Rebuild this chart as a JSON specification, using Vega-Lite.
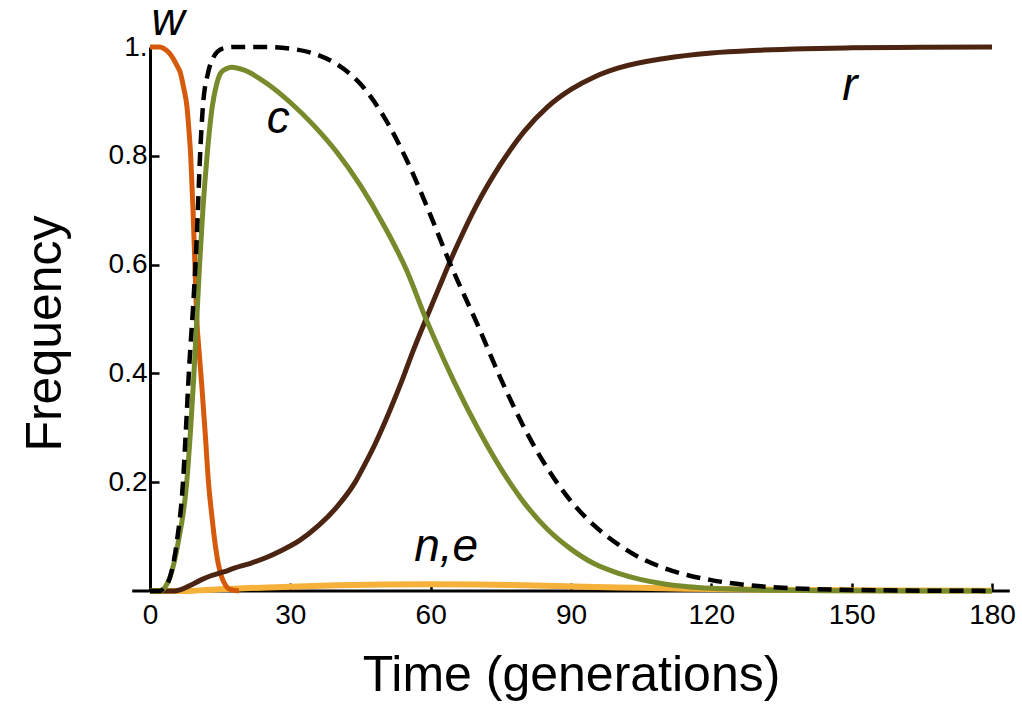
{
  "$schema": "https://vega.github.io/schema/vega-lite/v6.json",
  "width": 842,
  "height": 544,
  "autosize": {"type": "none"},
  "padding": {"left": 150, "top": 47, "right": 30, "bottom": 117},
  "background": "white",
  "config": {"view": {"stroke": null}, "font": "Liberation Sans"},
  "datasets": {
    "axisline": [{"t": -3.8, "t2": 183.8, "f": 0}],
    "labels": [
      {"txt": "w", "t": 3.85, "f": 1.022},
      {"txt": "c", "t": 27.4, "f": 0.842},
      {"txt": "r", "t": 149.6, "f": 0.903},
      {"txt": "n,e", "t": 63.3, "f": 0.055}
    ],
    "curves": [
      {"s": "ne", "t": 0, "f": 0}, {"s": "ne", "t": 8, "f": 0}, {"s": "ne", "t": 12, "f": 0.002}, {"s": "ne", "t": 20, "f": 0.005},
      {"s": "ne", "t": 30, "f": 0.008}, {"s": "ne", "t": 40, "f": 0.0105}, {"s": "ne", "t": 50, "f": 0.012}, {"s": "ne", "t": 60, "f": 0.0125},
      {"s": "ne", "t": 70, "f": 0.012}, {"s": "ne", "t": 80, "f": 0.0105}, {"s": "ne", "t": 90, "f": 0.0085}, {"s": "ne", "t": 100, "f": 0.0065},
      {"s": "ne", "t": 110, "f": 0.005}, {"s": "ne", "t": 120, "f": 0.0035}, {"s": "ne", "t": 140, "f": 0.0018}, {"s": "ne", "t": 160, "f": 0.0008},
      {"s": "ne", "t": 180, "f": 0.0004},

      {"s": "w", "t": 0, "f": 1}, {"s": "w", "t": 2, "f": 1}, {"s": "w", "t": 3, "f": 0.997}, {"s": "w", "t": 4, "f": 0.99},
      {"s": "w", "t": 5, "f": 0.978}, {"s": "w", "t": 6, "f": 0.962}, {"s": "w", "t": 6.4, "f": 0.955}, {"s": "w", "t": 7.2, "f": 0.925},
      {"s": "w", "t": 7.9, "f": 0.89}, {"s": "w", "t": 8.3, "f": 0.85}, {"s": "w", "t": 8.7, "f": 0.8}, {"s": "w", "t": 9.2, "f": 0.7},
      {"s": "w", "t": 9.6, "f": 0.6}, {"s": "w", "t": 10, "f": 0.5}, {"s": "w", "t": 10.5, "f": 0.44}, {"s": "w", "t": 11.05, "f": 0.38},
      {"s": "w", "t": 11.8, "f": 0.29}, {"s": "w", "t": 12.5, "f": 0.2}, {"s": "w", "t": 13.2, "f": 0.14}, {"s": "w", "t": 13.9, "f": 0.088},
      {"s": "w", "t": 14.6, "f": 0.05}, {"s": "w", "t": 15.3, "f": 0.026}, {"s": "w", "t": 16.2, "f": 0.01}, {"s": "w", "t": 17.1, "f": 0.003},
      {"s": "w", "t": 19, "f": 0},

      {"s": "r", "t": 0, "f": 0}, {"s": "r", "t": 5, "f": 0}, {"s": "r", "t": 7, "f": 0.004}, {"s": "r", "t": 9, "f": 0.012},
      {"s": "r", "t": 10.8, "f": 0.02}, {"s": "r", "t": 13, "f": 0.028}, {"s": "r", "t": 15.7, "f": 0.035}, {"s": "r", "t": 18, "f": 0.042},
      {"s": "r", "t": 21.5, "f": 0.051}, {"s": "r", "t": 25, "f": 0.062}, {"s": "r", "t": 28, "f": 0.074}, {"s": "r", "t": 32, "f": 0.093},
      {"s": "r", "t": 36, "f": 0.12}, {"s": "r", "t": 40, "f": 0.155}, {"s": "r", "t": 44, "f": 0.202}, {"s": "r", "t": 46, "f": 0.234},
      {"s": "r", "t": 48, "f": 0.268}, {"s": "r", "t": 50, "f": 0.306}, {"s": "r", "t": 52, "f": 0.347}, {"s": "r", "t": 54, "f": 0.39},
      {"s": "r", "t": 56, "f": 0.436}, {"s": "r", "t": 59, "f": 0.5}, {"s": "r", "t": 62, "f": 0.562}, {"s": "r", "t": 64, "f": 0.603},
      {"s": "r", "t": 67, "f": 0.66}, {"s": "r", "t": 70, "f": 0.712},
      {"s": "r", "t": 75, "f": 0.785}, {"s": "r", "t": 80, "f": 0.845}, {"s": "r", "t": 85, "f": 0.89},
      {"s": "r", "t": 90, "f": 0.922}, {"s": "r", "t": 95, "f": 0.945}, {"s": "r", "t": 100, "f": 0.961}, {"s": "r", "t": 110, "f": 0.979},
      {"s": "r", "t": 120, "f": 0.989}, {"s": "r", "t": 130, "f": 0.994}, {"s": "r", "t": 140, "f": 0.997}, {"s": "r", "t": 150, "f": 0.9985},
      {"s": "r", "t": 165, "f": 0.9995}, {"s": "r", "t": 180, "f": 1},

      {"s": "c", "t": 0, "f": 0}, {"s": "c", "t": 2.2, "f": 0}, {"s": "c", "t": 3.3, "f": 0.008}, {"s": "c", "t": 4.3, "f": 0.026},
      {"s": "c", "t": 6, "f": 0.088}, {"s": "c", "t": 7.85, "f": 0.2}, {"s": "c", "t": 8.7, "f": 0.3}, {"s": "c", "t": 9.4, "f": 0.4},
      {"s": "c", "t": 10, "f": 0.5}, {"s": "c", "t": 10.6, "f": 0.6}, {"s": "c", "t": 11.3, "f": 0.7}, {"s": "c", "t": 12.2, "f": 0.8},
      {"s": "c", "t": 13.3, "f": 0.89}, {"s": "c", "t": 14.2, "f": 0.93}, {"s": "c", "t": 15.1, "f": 0.952}, {"s": "c", "t": 16.3, "f": 0.96},
      {"s": "c", "t": 17.5, "f": 0.963}, {"s": "c", "t": 20, "f": 0.958}, {"s": "c", "t": 25, "f": 0.933}, {"s": "c", "t": 30, "f": 0.898},
      {"s": "c", "t": 35, "f": 0.856}, {"s": "c", "t": 40, "f": 0.806}, {"s": "c", "t": 45, "f": 0.745}, {"s": "c", "t": 50, "f": 0.672},
      {"s": "c", "t": 55, "f": 0.587}, {"s": "c", "t": 59, "f": 0.5}, {"s": "c", "t": 60, "f": 0.48}, {"s": "c", "t": 65, "f": 0.385},
      {"s": "c", "t": 70, "f": 0.3}, {"s": "c", "t": 75, "f": 0.225}, {"s": "c", "t": 80, "f": 0.162}, {"s": "c", "t": 85, "f": 0.113},
      {"s": "c", "t": 90, "f": 0.077}, {"s": "c", "t": 95, "f": 0.05}, {"s": "c", "t": 100, "f": 0.033}, {"s": "c", "t": 105, "f": 0.021},
      {"s": "c", "t": 110, "f": 0.013}, {"s": "c", "t": 115, "f": 0.008}, {"s": "c", "t": 120, "f": 0.005}, {"s": "c", "t": 130, "f": 0.002},
      {"s": "c", "t": 140, "f": 0.001}, {"s": "c", "t": 150, "f": 0.0003}, {"s": "c", "t": 180, "f": 0},

      {"s": "d", "t": 0, "f": 0}, {"s": "d", "t": 2, "f": 0}, {"s": "d", "t": 3, "f": 0.006}, {"s": "d", "t": 4.3, "f": 0.026},
      {"s": "d", "t": 5.7, "f": 0.088}, {"s": "d", "t": 7.05, "f": 0.2}, {"s": "d", "t": 7.7, "f": 0.3}, {"s": "d", "t": 8.3, "f": 0.4},
      {"s": "d", "t": 9.4, "f": 0.55}, {"s": "d", "t": 10, "f": 0.65}, {"s": "d", "t": 10.7, "f": 0.8}, {"s": "d", "t": 11.3, "f": 0.89},
      {"s": "d", "t": 12.4, "f": 0.952}, {"s": "d", "t": 13.5, "f": 0.98}, {"s": "d", "t": 15.5, "f": 0.997}, {"s": "d", "t": 18, "f": 1},
      {"s": "d", "t": 25, "f": 1}, {"s": "d", "t": 30, "f": 0.997}, {"s": "d", "t": 35, "f": 0.988}, {"s": "d", "t": 40, "f": 0.968},
      {"s": "d", "t": 45, "f": 0.932}, {"s": "d", "t": 50, "f": 0.872}, {"s": "d", "t": 55, "f": 0.79}, {"s": "d", "t": 60, "f": 0.69},
      {"s": "d", "t": 64, "f": 0.605}, {"s": "d", "t": 70, "f": 0.49}, {"s": "d", "t": 75, "f": 0.39}, {"s": "d", "t": 80, "f": 0.3},
      {"s": "d", "t": 85, "f": 0.225}, {"s": "d", "t": 90, "f": 0.165}, {"s": "d", "t": 95, "f": 0.12}, {"s": "d", "t": 100, "f": 0.086},
      {"s": "d", "t": 105, "f": 0.06}, {"s": "d", "t": 110, "f": 0.042}, {"s": "d", "t": 115, "f": 0.029}, {"s": "d", "t": 120, "f": 0.02},
      {"s": "d", "t": 130, "f": 0.009}, {"s": "d", "t": 140, "f": 0.004}, {"s": "d", "t": 150, "f": 0.002}, {"s": "d", "t": 165, "f": 0.0006},
      {"s": "d", "t": 180, "f": 0.0002}
    ]
  },
  "layer": [
    {
      "data": {"name": "axisline"},
      "mark": {"type": "rule", "color": "black", "strokeWidth": 3, "clip": false},
      "encoding": {
        "x": {"field": "t", "type": "quantitative", "scale": {"domain": [0, 180], "nice": false, "zero": false},
          "axis": {"values": [0, 30, 60, 90, 120, 150, 180], "domain": false, "grid": false, "tickSize": -8, "tickWidth": 2.5, "tickColor": "black",
            "labelFontSize": 28, "labelColor": "black", "labelPadding": 18, "labelFont": "Liberation Sans", "labelFlush": false, "labelOverlap": false,
            "title": "Time (generations)", "titleFontSize": 50, "titleFontWeight": "normal", "titleColor": "black", "titleFont": "Liberation Sans", "titlePadding": 21}},
        "x2": {"field": "t2"},
        "y": {"field": "f", "type": "quantitative", "scale": {"domain": [0, 1], "nice": false, "zero": false},
          "axis": {"values": [0.2, 0.4, 0.6, 0.8, 1], "labelExpr": "datum.value == 1 ? '1.' : format(datum.value, '.1f')",
            "domain": true, "domainColor": "black", "domainWidth": 3, "grid": false, "tickSize": -9, "tickWidth": 2.5, "tickColor": "black",
            "labelFontSize": 28, "labelColor": "black", "labelPadding": 12, "labelFont": "Liberation Sans", "labelFlush": false, "labelOverlap": false,
            "title": "Frequency", "titleFontSize": 50, "titleFontWeight": "normal", "titleColor": "black", "titleFont": "Liberation Sans", "titlePadding": 38, "titleY": 286}}
      }
    },
    {
      "data": {"name": "curves"},
      "transform": [{"filter": "datum.s == 'ne'"}],
      "mark": {"type": "line", "color": "#F6B13A", "strokeWidth": 6, "interpolate": "monotone"},
      "encoding": {"x": {"field": "t", "type": "quantitative"}, "y": {"field": "f", "type": "quantitative"}}
    },
    {
      "data": {"name": "curves"},
      "transform": [{"filter": "datum.s == 'w'"}],
      "mark": {"type": "line", "color": "#D55A0C", "strokeWidth": 5, "interpolate": "monotone"},
      "encoding": {"x": {"field": "t", "type": "quantitative"}, "y": {"field": "f", "type": "quantitative"}}
    },
    {
      "data": {"name": "curves"},
      "transform": [{"filter": "datum.s == 'r'"}],
      "mark": {"type": "line", "color": "#4B2412", "strokeWidth": 5, "interpolate": "monotone"},
      "encoding": {"x": {"field": "t", "type": "quantitative"}, "y": {"field": "f", "type": "quantitative"}}
    },
    {
      "data": {"name": "curves"},
      "transform": [{"filter": "datum.s == 'c'"}],
      "mark": {"type": "line", "color": "#778A2C", "strokeWidth": 5, "interpolate": "monotone"},
      "encoding": {"x": {"field": "t", "type": "quantitative"}, "y": {"field": "f", "type": "quantitative"}}
    },
    {
      "data": {"name": "curves"},
      "transform": [{"filter": "datum.s == 'd'"}],
      "mark": {"type": "line", "color": "black", "strokeWidth": 4.5, "strokeDash": [14, 8], "interpolate": "monotone"},
      "encoding": {"x": {"field": "t", "type": "quantitative"}, "y": {"field": "f", "type": "quantitative"}}
    },
    {
      "data": {"name": "labels"},
      "mark": {"type": "text", "font": "Liberation Sans", "fontStyle": "italic", "fontSize": 46, "align": "center", "baseline": "alphabetic", "color": "black"},
      "encoding": {"x": {"field": "t", "type": "quantitative"}, "y": {"field": "f", "type": "quantitative"}, "text": {"field": "txt"}}
    }
  ]
}
